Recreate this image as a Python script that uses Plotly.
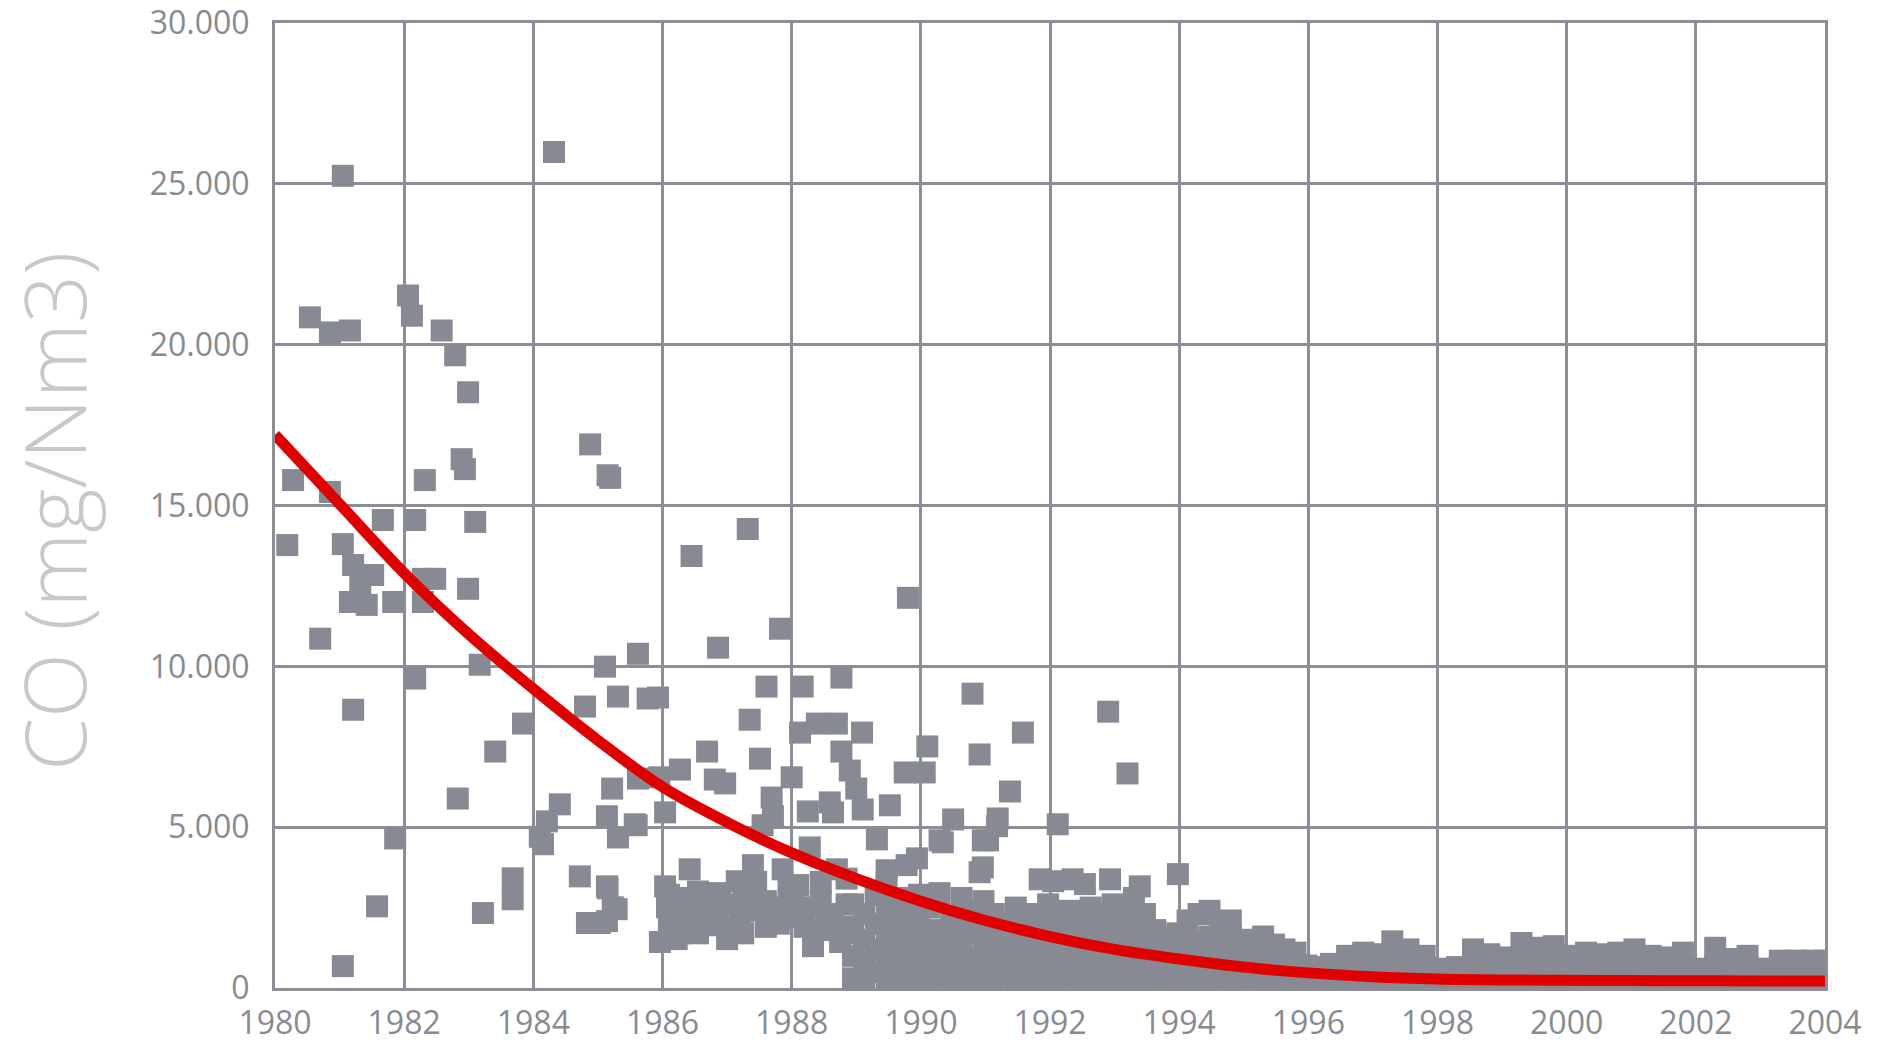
import plotly.graph_objects as go

# --- Individual readings, 1980-1986 ---
early_year = [1980.19, 1980.28, 1980.54, 1980.70, 1980.85, 1980.85, 1981.05, 1981.05, 1981.05,
              1981.16, 1981.21, 1981.16, 1981.21, 1981.32, 1981.42, 1981.52, 1981.58, 1981.67,
              1981.83, 1981.86, 1982.06, 1982.12, 1982.17, 1982.17, 1982.29, 1982.29, 1982.32,
              1982.48, 1982.58, 1982.79, 1982.83, 1982.89, 1982.94, 1982.99, 1982.99, 1983.10,
              1983.17, 1983.22, 1983.41, 1983.68, 1983.68, 1983.84, 1984.10, 1984.15, 1984.21,
              1984.32, 1984.41, 1984.72, 1984.80, 1984.83, 1984.88, 1985.03, 1985.11, 1985.14,
              1985.14, 1985.14, 1985.15, 1985.15, 1985.19, 1985.22, 1985.23, 1985.29, 1985.31,
              1985.31, 1985.57, 1985.60, 1985.62, 1985.62, 1985.77, 1985.93, 1985.95]
early_co = [13770, 15790, 20850, 10860, 20380, 15420, 25250, 13800, 680,
            20440, 13150, 12000, 8650, 12470, 11910, 12840, 2540, 14550,
            12000, 4650, 21530, 20900, 14550, 9620, 12720, 12000, 15790,
            12720, 20440, 19670, 5890, 16440, 16130, 18520, 12410, 14490,
            10050, 2330, 7350, 3410, 2760, 8220, 4700, 4470, 5180,
            25990, 5710, 3470, 8750, 2020, 16900, 2020, 9990, 5340,
            3160, 2080, 15940, 3100, 15860, 6200, 2510, 2450, 9060,
            4680, 5090, 5060, 10390, 6510, 9000, 9030, 6550]

# --- Individual readings, 1986-1994 ---
mid_year = [1985.96, 1986.04, 1986.04, 1986.07, 1986.22, 1986.27, 1986.35, 1986.42, 1986.45,
            1986.58, 1986.69, 1986.81, 1986.84, 1986.86, 1986.89, 1986.97, 1987.00, 1987.15,
            1987.20, 1987.32, 1987.35, 1987.38, 1987.40, 1987.51, 1987.55, 1987.61, 1987.69,
            1987.71, 1987.71, 1987.82, 1987.86, 1988.00, 1988.02, 1988.13, 1988.17, 1988.25,
            1988.28, 1988.33, 1988.33, 1988.39, 1988.59, 1988.64, 1988.64, 1988.70, 1988.70,
            1988.75, 1988.77, 1988.77, 1988.90, 1989.00, 1989.09, 1989.10, 1989.32, 1989.47,
            1989.47, 1989.52, 1989.75, 1989.78, 1989.80, 1989.94, 1990.06, 1990.10, 1990.29,
            1990.29, 1990.34, 1990.50, 1990.80, 1990.91, 1990.91, 1990.96, 1990.96, 1991.04,
            1991.18, 1991.19, 1991.38, 1991.58, 1991.84, 1992.05, 1992.12, 1992.35, 1992.54,
            1992.90, 1992.93, 1993.20, 1993.39, 1993.98]
mid_co = [1430, 5460, 3160, 2510, 1520, 6790, 2390, 3690, 13430,
          2510, 7350, 6480, 1950, 10580, 2950, 6360, 1520, 3320,
          2300, 14270, 8340, 2820, 3820, 7130, 5060, 9370, 5920,
          5340, 2300, 11170, 3690, 6550, 2610, 7940, 9370, 5490,
          4370, 2510, 1300, 8220, 5770, 5460, 2300, 8220, 3690,
          1430, 9650, 7350, 6760, 6200, 7940, 5550, 4620, 3660,
          3260, 5680, 6700, 3820, 12130, 4030, 6700, 7510, 4590,
          2950, 4530, 5240, 9150, 7260, 3600, 4590, 3750, 4590,
          5030, 5270, 6110, 7940, 3380, 3320, 5090, 3380, 3230,
          8590, 3380, 6670, 3160, 3540]

# --- Dense low readings, 1986-1996 (one entry per sampling column) ---
band_year = [1986.10, 1986.25, 1986.40, 1986.55, 1986.70, 1986.85, 1987.05, 1987.25, 1987.45,
             1987.60, 1987.80, 1987.95, 1988.10, 1988.20, 1988.45, 1988.55, 1988.85,
             1988.95, 1989.12, 1989.30, 1989.47, 1989.63, 1989.80, 1989.97, 1990.13, 1990.30,
             1990.47, 1990.63, 1990.80, 1990.97, 1991.13, 1991.30, 1991.47, 1991.63, 1991.80,
             1991.97, 1992.13, 1992.30, 1992.47, 1992.63, 1992.80, 1992.97, 1993.13, 1993.30,
             1993.47, 1993.63, 1993.80, 1993.97,
             1994.13, 1994.30, 1994.47, 1994.63, 1994.80, 1994.97, 1995.13, 1995.30, 1995.47,
             1995.63, 1995.80, 1995.97]
band_co = [[2000, 2900], [2300, 1700], [2000, 2800], [1700, 3000], [2200, 2900], [2400],
           [2600, 1900], [2900, 1700], [2400, 3300], [1900, 2700], [2500, 2000], [3100, 2200],
           [2300, 3200], [1900], [2700, 3300, 1800], [2100], [2600, 3400, 1900],
           [300, 1000, 1700, 2600], [250, 800, 1500, 2300], [500, 1200, 2000, 2900],
           [200, 900, 1600, 2500], [400, 1100, 1900, 2800], [250, 850, 1500, 2300],
           [450, 1200, 2000, 2900], [200, 900, 1700, 2500], [400, 1100, 1800],
           [250, 800, 1500, 2200], [500, 1200, 2000, 2800], [200, 900, 1700, 2400],
           [400, 1100, 1900, 2700], [250, 850, 1500, 2300], [450, 1200, 2000],
           [200, 900, 1600, 2500], [400, 1100, 1800, 2300], [250, 800, 1500, 2100],
           [450, 1200, 2000, 2600], [200, 900, 1600, 2300], [400, 1100, 1800, 2400],
           [250, 850, 1500, 2200], [450, 1200, 2000, 2500], [200, 900, 1600, 2300],
           [400, 1100, 1800, 2600], [250, 800, 1500, 2400], [450, 1200, 2000, 2800],
           [200, 900, 1600, 2300], [400, 1100, 1800], [250, 800, 1500], [450, 1100, 1700],
           [300, 900, 1500, 2100], [200, 800, 1400, 2300], [400, 1000, 1600, 2400],
           [250, 850, 1500, 2000], [350, 950, 1600, 2100], [200, 800, 1400],
           [350, 900, 1500], [250, 850, 1600], [300, 800, 1350],
           [200, 700, 1200], [300, 750, 1100], [250, 700]]

# --- Low readings, 1996-2004 ---
tail_year = [1996.10, 1996.35, 1996.60, 1996.85, 1997.10, 1997.30, 1997.55, 1997.80, 1998.05,
             1998.30, 1998.55, 1998.80, 1999.05, 1999.30, 1999.55, 1999.80, 2000.05, 2000.30,
             2000.55, 2000.80, 2001.05, 2001.30, 2001.55, 2001.80, 2002.05, 2002.30, 2002.55,
             2002.80, 2003.05, 2003.30, 2003.55, 2003.80, 2004.00]
tail_co = [[200, 650], [300, 750], [200, 700, 1000], [300, 800, 1100], [200, 650, 1050],
           [300, 800, 1450], [250, 700, 1200], [300, 650, 1000], [200, 600],
           [300, 650], [250, 700, 1200], [300, 650, 1050], [200, 600, 950],
           [300, 750, 1400], [250, 700, 1250], [300, 800, 1300], [200, 650, 1000],
           [300, 700, 1100], [250, 700, 1050], [300, 650, 1100], [200, 700, 1200],
           [300, 650, 1000], [250, 600, 950], [300, 650, 1100], [200, 600],
           [300, 700, 1250], [250, 600, 900], [300, 650, 1000], [200, 600],
           [300, 650, 850], [250, 600, 850], [300, 650, 850], [250, 600, 850]]

# --- Fitted trend ---
trend_year = list(range(1980, 2005))
trend_co = [17200, 15050, 12900, 11000, 9300, 7700, 6250, 5150, 4200, 3400, 2700, 2100, 1600,
            1200, 900, 650, 470, 350, 280, 250, 240, 230, 225, 220, 220]

x_ticks = list(range(1980, 2005, 2))
y_ticks = list(range(0, 30001, 5000))

# assemble the scatter cloud
pts_x = early_year + mid_year
pts_y = early_co + mid_co
for yr, vals in list(zip(band_year, band_co)) + list(zip(tail_year, tail_co)):
    for v in vals:
        pts_x.append(yr)
        pts_y.append(v)

GRID = "#8b8e95"
POINT = "#878a93"
TXT = "#878a91"

fig = go.Figure()
fig.add_trace(go.Scatter(
    x=pts_x, y=pts_y, mode="markers",
    marker=dict(symbol="square", size=22, color=POINT, line=dict(width=0)),
    hoverinfo="skip", showlegend=False,
))
fig.add_trace(go.Scatter(
    x=trend_year, y=trend_co, mode="lines",
    line=dict(color="#e10000", width=11, shape="spline", smoothing=1.0),
    hoverinfo="skip", showlegend=False,
))

fig.update_layout(
    width=1885, height=1045,
    margin=dict(l=275, r=60, t=23, b=57),
    paper_bgcolor="white", plot_bgcolor="white",
    separators=",.",
    font=dict(family="Open Sans, sans-serif", color=TXT),
    showlegend=False,
    annotations=[dict(
        text="CO (mg/Nm3)", textangle=-90,
        xref="paper", yref="paper", x=-0.143, y=0.494,
        xanchor="center", yanchor="middle", showarrow=False,
        font=dict(family="Open Sans, sans-serif", size=85, color="#c6c8cc", weight=300),
    )],
)
fig.update_xaxes(
    range=[1980, 2004], tickvals=x_ticks, tickformat="d",
    showgrid=True, gridcolor=GRID, gridwidth=3,
    showline=True, linecolor=GRID, linewidth=3, mirror=True,
    zeroline=False, ticks="", ticklabelstandoff=5, automargin=False,
    tickfont=dict(size=32, color=TXT),
)
fig.update_yaxes(
    range=[0, 30000], tickvals=y_ticks, tickformat=",d",
    showgrid=True, gridcolor=GRID, gridwidth=3,
    showline=True, linecolor=GRID, linewidth=3, mirror=True,
    zeroline=False, ticks="", ticklabelstandoff=16, automargin=False,
    ticklabeloverflow="allow",
    tickfont=dict(size=32, color=TXT),
)

fig.write_html("out.html")
